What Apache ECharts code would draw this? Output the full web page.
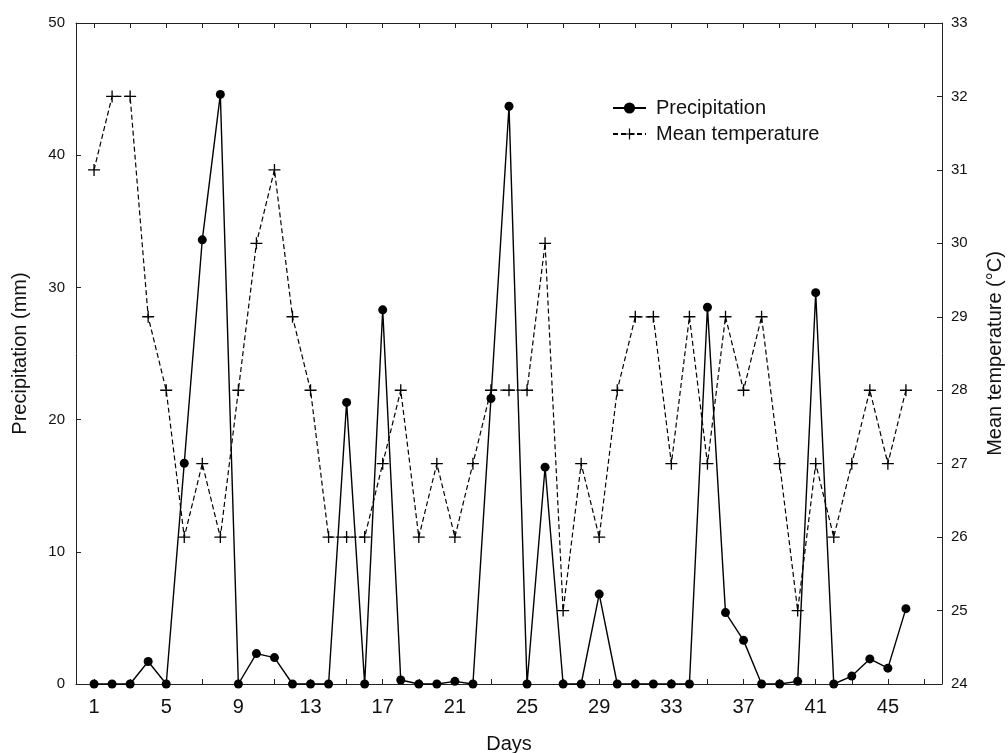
<!DOCTYPE html>
<html>
<head>
<meta charset="utf-8">
<script src="https://cdn.jsdelivr.net/npm/echarts@6/dist/echarts.min.js"></script>
<style>
html,body{margin:0;padding:0;background:#fff;}
#chart{width:1008px;height:753px;}
</style>
</head>
<body>
<div id="chart"></div>
<script>
// ---- data ----
const days = [1,2,3,4,5,6,7,8,9,10,11,12,13,14,15,16,17,18,19,20,21,22,23,24,25,26,27,28,29,30,31,32,33,34,35,36,37,38,39,40,41,42,43,44,45,46];
const precipitation = [0,0,0,1.7,0,16.7,33.6,44.6,0,2.3,2.0,0,0,0,21.3,0,28.3,0.3,0,0,0.2,0,21.6,43.7,0,16.4,0,0,6.8,0,0,0,0,0,28.5,5.4,3.3,0,0,0.2,29.6,0,0.6,1.9,1.2,5.7];
const meanTemperature = [31,32,32,29,28,26,27,26,28,30,31,29,28,26,26,26,27,28,26,27,26,27,28,28,28,30,25,27,26,28,29,29,27,29,27,29,28,29,27,25,27,26,27,28,27,28];
const xTickLabels = [1,5,9,13,17,21,25,29,33,37,41,45];
const xMin = 0, xMax = 48;
const precipTicks = [0,10,20,30,40,50];
const tempTicks = [24,25,26,27,28,29,30,31,32,33];

const xCategories = [];
for (let d = xMin; d <= xMax; d++) xCategories.push(String(d));

const FONT = '"Liberation Sans", Arial, sans-serif';
const AX = '#222';
const plusPath = 'path://M4.45,0H5.55V4.45H10V5.55H5.55V10H4.45V5.55H0V4.45H4.45Z';

const chart = echarts.init(document.getElementById('chart'), null, {renderer:'canvas'});
chart.setOption({
  animation: false,
  backgroundColor: '#fff',
  textStyle: {fontFamily: FONT},
  grid: {left: 76, right: 66, top: 23, bottom: 69, containLabel: false, outerBoundsMode: 'none'},
  legend: {
    orient: 'vertical', left: 612, top: 98, padding: 0, itemWidth: 33, itemHeight: 14, itemGap: 6,
    textStyle: {fontFamily: FONT, fontSize: 20, color: '#111', padding: [0, 0, 0, 5]},
    data: ['Precipitation', 'Mean temperature']
  },
  xAxis: [{
    type: 'category', data: xCategories, boundaryGap: false, position: 'bottom',
    name: 'Days', nameLocation: 'middle', nameGap: 50,
    nameTextStyle: {fontFamily: FONT, fontSize: 20, color: '#111'},
    axisLine: {show: true, lineStyle: {color: AX, width: 1}},
    axisTick: {show: true, inside: true, length: 5, lineStyle: {color: AX},
      interval: (i, v) => Number(v) % 2 === 1},
    axisLabel: {show: true, fontFamily: FONT, fontSize: 20, color: '#111', margin: 13,
      interval: (i, v) => xTickLabels.indexOf(Number(v)) >= 0},
    splitLine: {show: false}
  }, {
    type: 'category', data: xCategories, boundaryGap: false, position: 'top',
    axisLine: {show: true, lineStyle: {color: AX, width: 1}},
    axisTick: {show: true, inside: true, length: 5, lineStyle: {color: AX},
      interval: (i, v) => Number(v) % 2 === 1},
    axisLabel: {show: false},
    splitLine: {show: false}
  }],
  yAxis: [{
    type: 'value', position: 'left', min: precipTicks[0], max: precipTicks[precipTicks.length-1], interval: 10,
    name: 'Precipitation (mm)', nameLocation: 'middle', nameGap: 46, nameRotate: 90,
    nameTextStyle: {fontFamily: FONT, fontSize: 20, color: '#111'},
    axisLine: {show: true, lineStyle: {color: AX, width: 1}},
    axisTick: {show: true, inside: true, length: 5, lineStyle: {color: AX}},
    axisLabel: {fontFamily: FONT, fontSize: 15, color: '#111', margin: 11},
    splitLine: {show: false}
  }, {
    type: 'value', position: 'right', min: tempTicks[0], max: tempTicks[tempTicks.length-1], interval: 1,
    name: 'Mean temperature (°C)', nameLocation: 'middle', nameGap: 43, nameRotate: 90,
    nameTextStyle: {fontFamily: FONT, fontSize: 20, color: '#111'},
    axisLine: {show: true, lineStyle: {color: AX, width: 1}},
    axisTick: {show: true, inside: true, length: 5, lineStyle: {color: AX}},
    axisLabel: {fontFamily: FONT, fontSize: 15, color: '#111', margin: 9},
    splitLine: {show: false}
  }],
  series: [{
    name: 'Precipitation', type: 'line', xAxisIndex: 0, yAxisIndex: 0,
    data: days.map((d, i) => [String(d), precipitation[i]]),
    symbol: 'circle', symbolSize: 9, showSymbol: true, showAllSymbol: true,
    lineStyle: {color: '#000', width: 1.4, type: 'solid'},
    itemStyle: {color: '#000'},
    clip: false, z: 3
  }, {
    name: 'Mean temperature', type: 'line', xAxisIndex: 0, yAxisIndex: 1,
    data: days.map((d, i) => [String(d), meanTemperature[i]]),
    symbol: plusPath, symbolSize: 12, showSymbol: true, showAllSymbol: true,
    lineStyle: {color: '#000', width: 1.2, type: [5, 3]},
    itemStyle: {color: '#000'},
    clip: false, z: 2
  }]
});
</script>
</body>
</html>
